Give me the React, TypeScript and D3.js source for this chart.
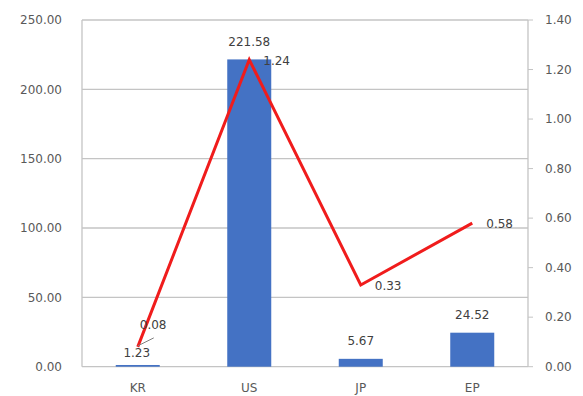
import React from "react";
import * as d3 from "d3";

const categories = ["KR", "US", "JP", "EP"];
const barValues = [1.23, 221.58, 5.67, 24.52];
const lineValues = [0.08, 1.24, 0.33, 0.58];
const leftTicks = [0, 50, 100, 150, 200, 250];
const rightTicks = [0, 0.2, 0.4, 0.6, 0.8, 1.0, 1.2, 1.4];

const W = 583;
const H = 396;
const M = { left: 82, right: 55, top: 20, bottom: 29.3 };
const FONT = "'DejaVu Sans', Verdana, sans-serif";

export default function App() {
  const x = d3
    .scaleBand<string>()
    .domain(categories)
    .range([M.left, W - M.right])
    .paddingInner(0.6)
    .paddingOuter(0.3);
  const cx = (c: string) => (x(c) as number) + x.bandwidth() / 2;
  const yL = d3.scaleLinear().domain([0, 250]).range([H - M.bottom, M.top]);
  const yR = d3.scaleLinear().domain([0, 1.4]).range([H - M.bottom, M.top]);
  const bw = 44;
  const line = d3
    .line<number>()
    .x((_, i) => cx(categories[i]))
    .y((d) => yR(d));
  const x0 = M.left;
  const x1 = W - M.right;
  const y0 = yL(0);
  const fs = 12;

  return (
    <svg
      width={W}
      height={H}
      style={{ position: "absolute", left: 0, top: 0, background: "#fff" }}
      fontFamily={FONT}
    >
      {leftTicks.map((t) => (
        <g key={"l" + t}>
          <line x1={x0} x2={x1} y1={yL(t)} y2={yL(t)} stroke="#c4c4c4" strokeWidth={1.3} />
          <text x={62} y={yL(t)} dy="0.35em" textAnchor="end" fontSize={fs} fill="#595959">
            {d3.format(".2f")(t)}
          </text>
        </g>
      ))}
      <line x1={x0} x2={x0} y1={M.top} y2={y0} stroke="#c4c4c4" strokeWidth={1.3} />
      <line x1={x1} x2={x1} y1={M.top} y2={y0} stroke="#c4c4c4" strokeWidth={1.3} />
      {rightTicks.map((t) => (
        <g key={"r" + t}>
          <line x1={x1} x2={x1 + 5} y1={yR(t)} y2={yR(t)} stroke="#c4c4c4" strokeWidth={1} />
          <text x={545} y={yR(t)} dy="0.35em" textAnchor="start" fontSize={fs} fill="#595959">
            {d3.format(".2f")(t)}
          </text>
        </g>
      ))}
      {categories.map((c, i) => (
        <g key={c}>
          <rect
            x={cx(c) - bw / 2}
            y={yL(barValues[i])}
            width={bw}
            height={y0 - yL(barValues[i])}
            fill="#4472C4"
          />
          <text x={cx(c)} y={388} dy="0.35em" textAnchor="middle" fontSize={fs} fill="#595959">
            {c}
          </text>
        </g>
      ))}
      <path d={line(lineValues) || ""} fill="none" stroke="#f01c1c" strokeWidth={3} strokeLinejoin="miter" />
      {categories.map((c, i) => {
        const ty = c === "KR" ? 353 : yL(barValues[i]) - 18;
        return (
          <text key={"bl" + c} x={cx(c) - (c === "KR" ? 1 : 0)} y={ty} dy="0.35em" textAnchor="middle" fontSize={fs} fill="#404040">
            {d3.format(".2f")(barValues[i])}
          </text>
        );
      })}
      {categories.map((c, i) => {
        if (c === "KR") {
          const px = cx(c);
          const py = yR(lineValues[i]);
          return (
            <g key={"ll" + c}>
              <line x1={px} y1={py - 1} x2={px + 16} y2={py - 9} stroke="#7f7f7f" strokeWidth={1} />
              <text x={px + 2} y={325} dy="0.35em" textAnchor="start" fontSize={fs} fill="#404040">
                {d3.format(".2f")(lineValues[i])}
              </text>
            </g>
          );
        }
        return (
          <text key={"ll" + c} x={cx(c) + 14} y={yR(lineValues[i]) + 1} dy="0.35em" textAnchor="start" fontSize={fs} fill="#404040">
            {d3.format(".2f")(lineValues[i])}
          </text>
        );
      })}
    </svg>
  );
}
